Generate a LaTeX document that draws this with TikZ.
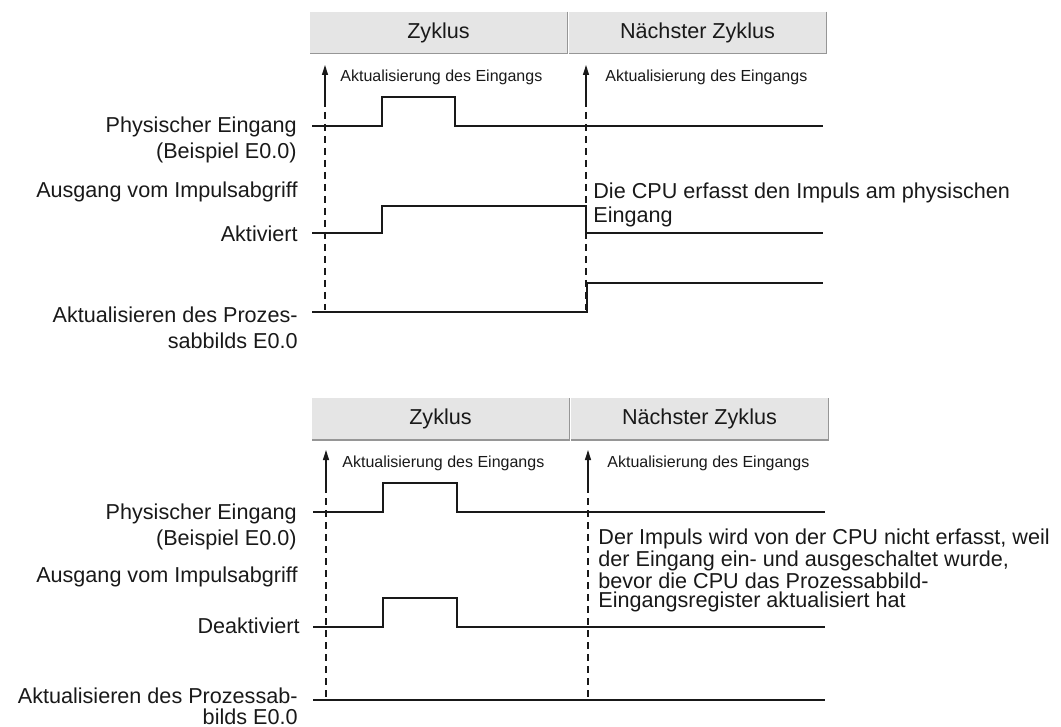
\documentclass[tikz,border=0pt]{standalone}
\usepackage{fontspec}
\setmainfont{Liberation Sans}
\usetikzlibrary{arrows.meta}

\definecolor{boxgray}{RGB}{229,229,229}
\definecolor{rimgray}{RGB}{150,150,150}
\definecolor{ink}{RGB}{25,25,25}

\begin{document}
\begin{tikzpicture}[
    x=0.5pt, y=-0.5pt,
    color=ink,
    head/.style={
        rectangle,
        fill=boxgray,
        minimum width=128.5pt,
        minimum height=20.5pt,
        font=\fontsize{10.8}{13}\selectfont
    },
    rim/.style={draw=rimgray, line width=0.8pt},
    lbl/.style={anchor=east, align=right, inner sep=0pt, font=\fontsize{10.8}{13}\selectfont},
    note/.style={anchor=west, align=left, inner sep=0pt},
    small/.style={anchor=west, inner sep=0pt, font=\fontsize{8}{10}\selectfont},
    upd/.style={-{Triangle[length=5pt, width=3pt]}, line width=0.7pt},
    cyc/.style={line width=0.6pt, dash pattern=on 3.5pt off 2.5pt},
    sig/.style={line width=1.4pt, line join=miter}
]
\useasboundingbox (0,0) rectangle (1061,727);

% upper diagram: pulse catch activated
\node[head] (zyk1) at (438.5,32.5) {Zyklus};
\node[head] (next1) at (697.5,32.5) {Nächster Zyklus};
\draw[rim] (zyk1.north east) -- (zyk1.south east) -- (zyk1.south west);
\draw[rim] (next1.north east) -- (next1.south east) -- (next1.south west);

\coordinate (up1) at (325,100);
\coordinate (up2) at (586,100);
\draw[upd] (up1) -- ++(0,-35);
\draw[upd] (up2) -- ++(0,-35);
\draw[cyc] (up1) -- (325,310);
\draw[cyc] (up2) -- (586,310);
\node[small] (akt1) at (340,77) {Aktualisierung des Eingangs};
\node[small] (akt2) at (605,77) {Aktualisierung des Eingangs};

\node[lbl] (phys1) at (297,139.5) {Physischer Eingang\\(Beispiel E0.0)};
\node[lbl] (ausg1) at (298,192) {Ausgang vom Impulsabgriff};
\node[lbl] (aktiv) at (298,234) {Aktiviert};
\node[lbl] (proz1) at (298,327.5) {Aktualisieren des Prozes-\\sabbilds E0.0};

\draw[sig] (312,126) -- (382,126) -- (382,97) -- (455,97) -- (455,126) -- (823,126);
\draw[sig] (312,233) -- (382,233) -- (382,206) -- (586,206) -- (586,233) -- (823,233);
\draw[sig] (312,312) -- (587,312) -- (587,283) -- (823,283);

\node[note, font=\fontsize{10.8}{12}\selectfont] (erfasst) at (593,205)
    {Die CPU erfasst den Impuls am physischen\\Eingang};

% lower diagram: pulse catch deactivated
\node[head] (zyk2) at (440.5,419) {Zyklus};
\node[head] (next2) at (699.5,419) {Nächster Zyklus};
\draw[rim] (zyk2.north east) -- (zyk2.south east) -- (zyk2.south west);
\draw[rim] (next2.north east) -- (next2.south east) -- (next2.south west);

\coordinate (up3) at (326,486);
\coordinate (up4) at (588,486);
\draw[upd] (up3) -- ++(0,-36);
\draw[upd] (up4) -- ++(0,-36);
\draw[cyc] (up3) -- (326,697);
\draw[cyc] (up4) -- (588,697);
\node[small] (akt3) at (342,463) {Aktualisierung des Eingangs};
\node[small] (akt4) at (607,463) {Aktualisierung des Eingangs};

\node[lbl] (phys2) at (297,527) {Physischer Eingang\\(Beispiel E0.0)};
\node[lbl] (ausg2) at (298,577) {Ausgang vom Impulsabgriff};
\node[lbl] (deakt) at (300,626) {Deaktiviert};
\node[lbl, font=\fontsize{10.8}{10.5}\selectfont] (proz2) at (298,706)
    {Aktualisieren des Prozessab-\\bilds E0.0};

\draw[sig] (313,512) -- (383,512) -- (383,483) -- (457,483) -- (457,512) -- (825,512);
\draw[sig] (313,627) -- (383,627) -- (383,598) -- (457,598) -- (457,627) -- (825,627);
\draw[sig] (313,700) -- (825,700);

\node[note, font=\fontsize{10.8}{9.5}\selectfont] (verpasst) at (598,570.5)
    {Der Impuls wird von der CPU nicht erfasst, weil\\der Eingang ein- und ausgeschaltet wurde,\\bevor die CPU das Prozessabbild-\\Eingangsregister aktualisiert hat};

\end{tikzpicture}
\end{document}
